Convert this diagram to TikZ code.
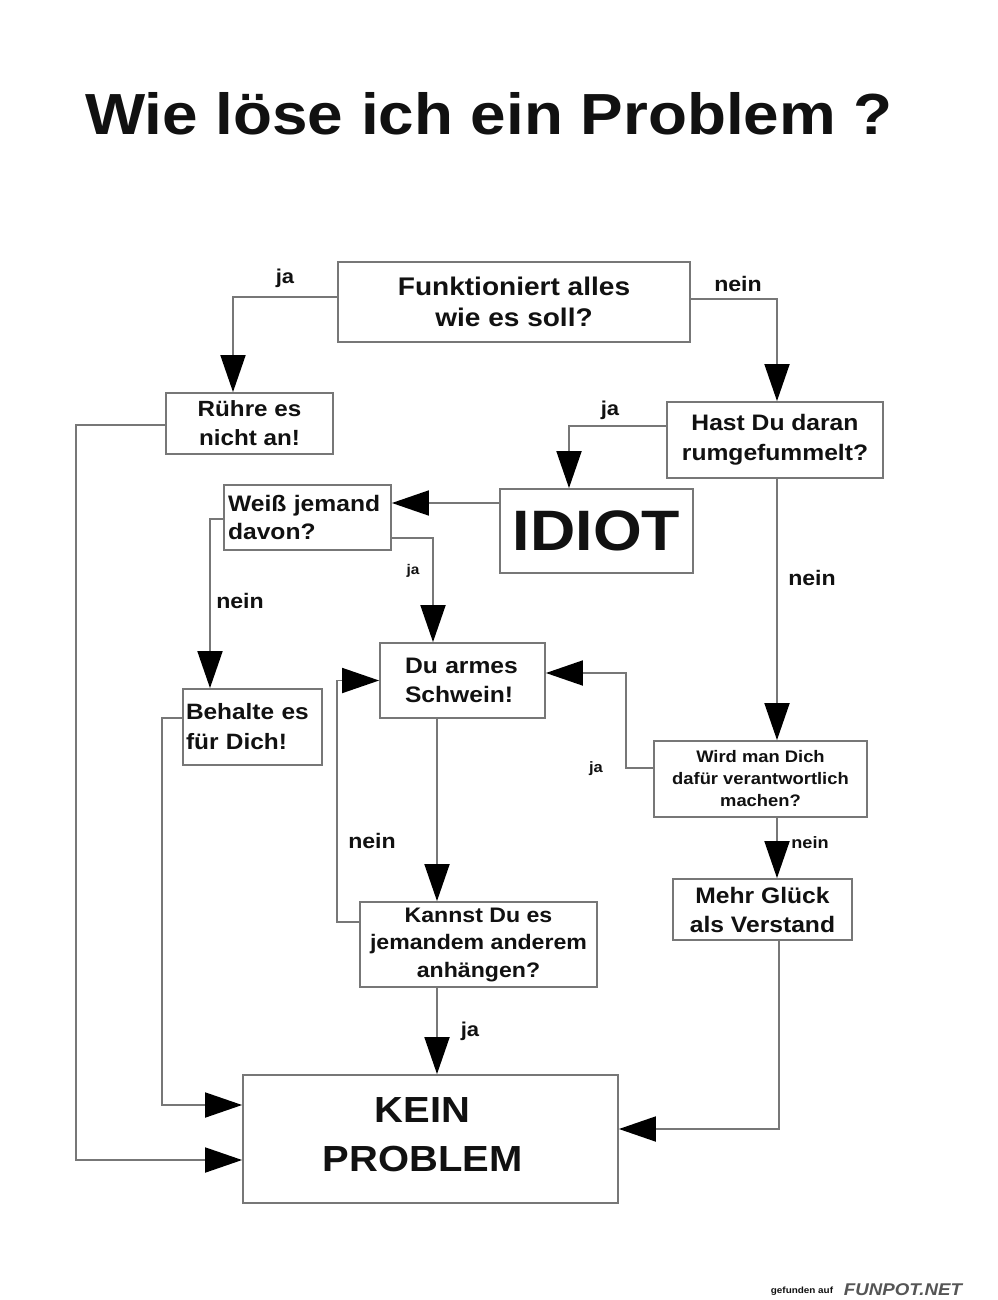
\documentclass[tikz,border=0pt]{standalone}
\usepackage{fontspec}
\setmainfont{Liberation Sans}[FakeStretch=1.1]
\usetikzlibrary{arrows.meta}
\definecolor{ink}{HTML}{111111}
\definecolor{edge}{HTML}{777777}
\definecolor{logo}{HTML}{555555}
\newcommand\fsz[2]{\fontsize{#1}{#2}\selectfont\bfseries}
\begin{document}
\begin{tikzpicture}[x=1pt,y=-1pt,
  box/.style={draw=edge,line width=1.8pt,inner sep=0pt,align=center,text=ink},
  conn/.style={draw=edge,line width=1.8pt,-{Triangle[length=37pt,width=25pt,color=black]}},
  lbl/.style={inner sep=0pt,text=ink,anchor=base}]
\useasboundingbox[fill=white] (0,0) rectangle (997,1300);

% title
\node[lbl,font=\fsz{58}{64}] (title) at (489,135) {Wie löse ich ein Problem ?};

% boxes
\node[box,minimum width=352pt,minimum height=80pt,font=\fsz{25.5}{31}] (func) at (514,302) {Funktioniert alles\\wie es soll?};
\node[box,minimum width=167pt,minimum height=61pt,font=\fsz{22}{29}] (ruhre) at (249.5,423.5) {Rühre es\\nicht an!};
\node[box,minimum width=216pt,minimum height=76pt,font=\fsz{22.4}{30}] (hast) at (775,440) {Hast Du daran\\rumgefummelt?};
\node[box,minimum width=193pt,minimum height=84pt,font=\fsz{57}{60}] (idiot) at (596.5,531) {IDIOT};
\node[box,minimum width=167pt,minimum height=65pt,inner xsep=4pt,text width=159pt,align=left,font=\fsz{22.4}{28}] (weiss) at (307.5,517.5) {Weiß jemand\\davon?};
\node[box,minimum width=165pt,minimum height=75pt,inner xsep=25pt,text width=115pt,align=left,font=\fsz{22.4}{29}] (armes) at (462.5,680.5) {Du armes\\Schwein!};
\node[box,minimum width=139pt,minimum height=76pt,inner xsep=3pt,text width=133pt,align=left,font=\fsz{22.2}{30}] (behalte) at (252.5,727) {Behalte es\\für Dich!};
\node[box,minimum width=213pt,minimum height=76pt,font=\fsz{16.7}{22}] (wird) at (760.5,779) {Wird man Dich\\dafür verantwortlich\\machen?};
\node[box,minimum width=179pt,minimum height=61pt,font=\fsz{22.4}{29}] (mehr) at (762.5,909.5) {Mehr Glück\\als Verstand};
\node[box,minimum width=237pt,minimum height=85pt,font=\fsz{21}{27.5}] (kannst) at (478.5,944.5) {Kannst Du es\\jemandem anderem\\anhängen?};
\node[box,minimum width=375pt,minimum height=128pt,text width=375pt,text depth=59pt,font=\fsz{36.3}{49}] (kein) at (430.5,1139) {\hspace*{-16pt}KEIN\\\hspace*{-16pt}PROBLEM};

% connectors
\draw[conn] ([yshift=5pt]func.west) -| ([xshift=-16.5pt]ruhre.north);
\draw[conn] ([yshift=3pt]func.east) -| ([xshift=2pt]hast.north);
\draw[conn] ([yshift=14pt]hast.west) -| ([xshift=-27.5pt]idiot.north);
\draw[conn] ([xshift=2pt]hast.south) -- ([xshift=16.5pt]wird.north);
\draw[conn] ([yshift=28pt]idiot.west) -- ([yshift=14.5pt]weiss.east);
\draw[conn] ([yshift=-20.5pt]weiss.east) -| ([xshift=-29.5pt]armes.north);
\draw[conn] ([yshift=-1.5pt]weiss.west) -| ([xshift=-42.5pt]behalte.north);
\draw[conn] ([yshift=9pt]behalte.west) -- ++(-20pt,0) |- ([yshift=34pt]kein.west);
\draw[conn] ([yshift=-1.5pt]ruhre.west) -- ++(-89pt,0) |- ([yshift=-21pt]kein.west);
\draw[conn] ([xshift=-25.5pt]armes.south) -- ([xshift=-41.5pt]kannst.north);
\draw[conn] ([yshift=22.5pt]kannst.west) -- ++(-22pt,0) |- (armes.west);
\draw[conn] ([xshift=-41.5pt]kannst.south) -- ([xshift=6.5pt]kein.north);
\draw[conn] ([yshift=11pt]wird.west) -- ++(-27pt,0) |- ([yshift=7.5pt]armes.east);
\draw[conn] ([xshift=16.5pt]wird.south) -- ([xshift=14.5pt]mehr.north);
\draw[conn] ([xshift=16.5pt]mehr.south) |- ([yshift=10pt]kein.east);

% labels
\node[lbl,font=\fsz{20}{24}] (l1) at (285,283) {ja};
\node[lbl,font=\fsz{21}{24}] (l2) at (738,291) {nein};
\node[lbl,font=\fsz{20}{24}] (l3) at (610,415) {ja};
\node[lbl,font=\fsz{21}{24}] (l4) at (812,585) {nein};
\node[lbl,font=\fsz{14}{18}] (l5) at (413,574) {ja};
\node[lbl,font=\fsz{21}{24}] (l6) at (240,608) {nein};
\node[lbl,font=\fsz{15}{18}] (l7) at (596,772) {ja};
\node[lbl,font=\fsz{16.5}{20}] (l8) at (810,848) {nein};
\node[lbl,font=\fsz{21}{24}] (l9) at (372,848) {nein};
\node[lbl,font=\fsz{20}{24}] (l10) at (470,1036) {ja};

% footer
\node[lbl,font=\fsz{9}{11}] (f1) at (802,1293) {gefunden auf};
\node[lbl,font=\fontsize{17}{20}\selectfont\bfseries\itshape,text=logo] (f2) at (903,1295) {FUNPOT.NET};
\end{tikzpicture}
\end{document}
